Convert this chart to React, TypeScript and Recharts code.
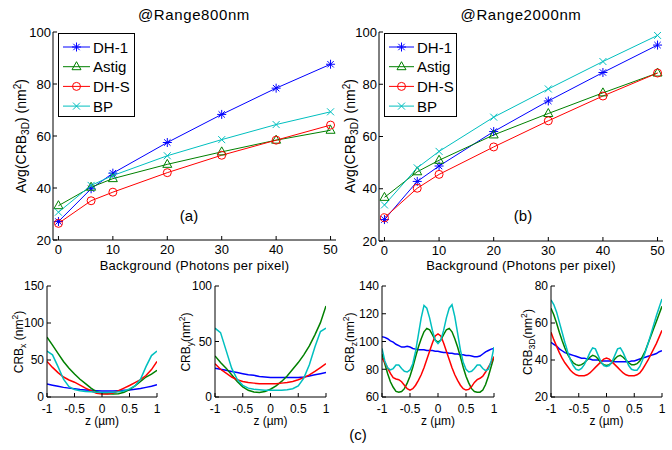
import React from "react";
import { LineChart, Line, XAxis, YAxis, Legend } from "recharts";

const FONT = '"Liberation Sans", Arial, Helvetica, sans-serif';
const BLUE = "#0000ff";
const GREEN = "#008000";
const RED = "#ff0000";
const CYAN = "#00bfbf";

// background photons per pixel
const bgLevels = [0, 6, 10, 20, 30, 40, 50];
const bgTicks = [0, 10, 20, 30, 40, 50];
const avgTicks = [20, 40, 60, 80, 100];

// (a) @Range800nm
const r800Dh1 = [27.1, 39.7, 45.7, 57.5, 68.3, 78.4, 87.6];
const r800Astig = [33.2, 40.3, 43.6, 49.1, 53.9, 58.4, 62.2];
const r800DhS = [26.4, 35.1, 38.4, 45.9, 52.6, 58.4, 64.2];
const r800Bp = [30.7, 41.0, 44.8, 52.4, 58.6, 64.4, 69.3];

// (b) @Range2000nm
const r2000Dh1 = [28.2, 42.8, 48.7, 61.9, 73.6, 84.5, 95.0];
const r2000Astig = [36.7, 46.5, 50.9, 60.6, 68.8, 76.7, 84.3];
const r2000DhS = [28.9, 40.2, 45.5, 56.0, 66.0, 75.5, 84.3];
const r2000Bp = [33.8, 48.0, 54.3, 67.4, 78.2, 88.7, 98.7];

// (c) CRB vs z
const zTicks = [-1, -0.5, 0, 0.5, 1];
const zCoarse = [-1, -0.9, -0.8, -0.7, -0.6, -0.5, -0.4, -0.3, -0.2, -0.1, 0, 0.1, 0.2, 0.3, 0.4, 0.5, 0.6, 0.7, 0.8, 0.9, 1];
const zFine = [
  -1, -0.95, -0.9, -0.85, -0.8, -0.75, -0.7, -0.65, -0.6, -0.55, -0.5, -0.45, -0.4, -0.35, -0.3, -0.25, -0.2, -0.15, -0.1, -0.05,
  0, 0.05, 0.1, 0.15, 0.2, 0.25, 0.3, 0.35, 0.4, 0.45, 0.5, 0.55, 0.6, 0.65, 0.7, 0.75, 0.8, 0.85, 0.9, 0.95, 1,
];

const crbxDh1 = [17.5, 16, 14.5, 13, 12, 11, 10, 9.5, 9, 8.5, 8, 8, 8, 8.5, 9, 9.5, 10.5, 11.5, 13, 14.5, 16.5];
const crbxAstig = [81, 70, 59, 48, 39, 31, 24, 18, 12, 7, 5, 4.5, 4, 4.5, 6.5, 10, 15, 21, 27, 31, 36];
const crbxDhS = [48, 40, 33, 27, 23, 20, 16, 12, 8.5, 5, 4, 4, 5.5, 8.5, 12, 15.5, 19.5, 23.5, 29, 37, 48];
const crbxBp = [62, 57, 41, 24, 14, 10, 8.5, 7.5, 7, 6.5, 6, 6, 6.5, 7, 8, 11, 15, 24, 41, 56, 62];

const crbyDh1 = [26, 25, 24, 23, 22, 21, 20, 19.5, 18.5, 18, 17.5, 17.5, 17.5, 17.5, 17.5, 17.5, 18, 19, 20, 21, 22];
const crbyAstig = [37, 31, 26, 20, 14, 9, 6, 4.5, 4, 5, 7, 10, 14, 19, 25, 31, 38, 46, 56, 67, 82];
const crbyDhS = [30, 25, 21.5, 18, 15.5, 14, 13, 12.5, 12, 12, 12, 12, 12.5, 13, 14, 15.5, 17.5, 20, 23, 26.5, 30];
const crbyBp = [62, 58, 42, 26, 16, 10.5, 8, 7, 6.5, 6, 6, 6, 6, 6.5, 7.5, 10, 17, 29, 45, 59, 62];

const crbzDh1 = [
  103.5, 103, 102, 100.5, 99.5, 98, 97, 96, 96, 96.5, 96, 95, 94.5, 94, 94, 94, 93.5, 93.5, 93.5, 93,
  93, 92.5, 92, 92, 91.5, 91.5, 91, 91, 90.5, 90.5, 90, 90, 89.5, 89, 89, 89.5, 91, 92.5, 93.5, 94.5, 95,
];
const crbzAstig = [
  91, 84, 77, 71, 67, 64, 63.5, 64, 66, 70, 75, 81.5, 89, 96, 102, 107, 109.5, 108.5, 105, 101,
  99.5, 101, 105, 108.5, 109.5, 107, 102, 96, 89, 81.5, 75, 70, 66, 64, 63.5, 63.5, 65, 69, 75, 82, 89,
];
const crbzDhS = [
  88, 85, 81, 77, 74, 73, 72.5, 71, 68.5, 66, 65, 66, 68.5, 72, 76, 81, 87, 93, 99, 104,
  105.5, 104, 99, 93, 87, 81, 76, 72, 68.5, 66, 65, 65.5, 67.5, 70.5, 72.5, 73.5, 75, 78, 81.5, 85, 89,
];
const crbzBp = [
  95, 86, 81, 79.5, 80.5, 83, 83, 80.5, 78.5, 78, 79.5, 84, 93, 105, 117, 126, 124, 117, 108, 101,
  98.5, 101, 108, 117, 124, 126.5, 118, 106, 94, 85, 80, 78, 78.5, 80.5, 83, 83, 80.5, 79, 80, 86, 96,
];

const crb3dDh1 = [
  49.5, 48.5, 47.5, 46, 45, 44, 43.5, 43, 42.5, 42, 41.5, 41, 41, 40.5, 40.5, 40, 40, 40, 39.5, 39.5,
  39.5, 39.5, 39.5, 39, 39, 39, 39, 39, 39, 39.5, 39.5, 40, 40.5, 41, 41.5, 42, 42.5, 43, 43.5, 44.5, 45,
];
const crb3dAstig = [
  68, 64.5, 60, 55, 50.5, 46.5, 43, 40.5, 38.5, 37.5, 37, 37.5, 38.5, 40, 41.5, 42.5, 42, 40.5, 38.5, 37.5,
  37, 37.5, 38.5, 40.5, 42, 42.5, 41.5, 40, 38.5, 37.5, 37.5, 38, 39.5, 42, 45, 49, 53, 57, 61, 65, 69,
];
const crb3dDhS = [
  55, 51, 47.5, 44, 41, 38.5, 36.5, 34.5, 33, 32, 31.5, 31.5, 31.5, 32, 33, 34.5, 36, 37.5, 39, 40.5,
  41, 40.5, 39, 37.5, 36, 34.5, 33, 32, 31.5, 31.5, 31.5, 32, 33, 35, 37.5, 40, 43, 46, 49, 52.5, 56,
];
const crb3dBp = [
  72.5, 70, 66, 60.5, 55, 49.5, 44.5, 40, 37, 35, 34.5, 35.5, 37.5, 40.5, 44, 46.5, 46, 42.5, 39, 37,
  36.5, 37, 39, 42.5, 46, 46.5, 44, 40.5, 37, 35, 34.5, 34.5, 36.5, 40, 44.5, 49, 54, 59, 64, 68.5, 73,
];

type Kind = "star" | "tri" | "circle" | "x";
const SERIES: { key: string; name: string; color: string; kind: Kind }[] = [
  { key: "dh1", name: "DH-1", color: BLUE, kind: "star" },
  { key: "astig", name: "Astig", color: GREEN, kind: "tri" },
  { key: "dhs", name: "DH-S", color: RED, kind: "circle" },
  { key: "bp", name: "BP", color: CYAN, kind: "x" },
];

const rows = (xs: number[], xKey: string, a: number[], b: number[], c: number[], d: number[]) =>
  xs.map((x, i) => ({ [xKey]: x, dh1: a[i], astig: b[i], dhs: c[i], bp: d[i] }));

const dataA = rows(bgLevels, "bg", r800Dh1, r800Astig, r800DhS, r800Bp);
const dataB = rows(bgLevels, "bg", r2000Dh1, r2000Astig, r2000DhS, r2000Bp);
const dataX = rows(zCoarse, "z", crbxDh1, crbxAstig, crbxDhS, crbxBp);
const dataY = rows(zCoarse, "z", crbyDh1, crbyAstig, crbyDhS, crbyBp);
const dataZ = rows(zFine, "z", crbzDh1, crbzAstig, crbzDhS, crbzBp);
const data3D = rows(zFine, "z", crb3dDh1, crb3dAstig, crb3dDhS, crb3dBp);

function Marker({ kind, x, y, color }: { kind: Kind; x: number; y: number; color: string }) {
  if (kind === "star") {
    return (
      <g stroke={color} strokeWidth={1}>
        <line x1={x - 4.5} y1={y} x2={x + 4.5} y2={y} />
        <line x1={x} y1={y - 4.5} x2={x} y2={y + 4.5} />
        <line x1={x - 3.2} y1={y - 3.2} x2={x + 3.2} y2={y + 3.2} />
        <line x1={x - 3.2} y1={y + 3.2} x2={x + 3.2} y2={y - 3.2} />
      </g>
    );
  }
  if (kind === "tri") {
    return <polygon points={`${x},${y - 5} ${x - 4.5},${y + 3} ${x + 4.5},${y + 3}`} fill="none" stroke={color} />;
  }
  if (kind === "circle") {
    return <circle cx={x} cy={y} r={4} fill="none" stroke={color} />;
  }
  return (
    <g stroke={color} strokeWidth={1}>
      <line x1={x - 3.5} y1={y - 3.5} x2={x + 3.5} y2={y + 3.5} />
      <line x1={x - 3.5} y1={y + 3.5} x2={x + 3.5} y2={y - 3.5} />
    </g>
  );
}

function LegendBox({ width, textX }: { width: number; textX: number }) {
  return (
    <svg width={width} height={84} style={{ display: "block" }}>
      <rect x={0.5} y={0.5} width={width - 1} height={83} fill="#fff" stroke="#000" />
      {SERIES.map((s, i) => {
        const y = 14 + i * 19.7;
        return (
          <g key={s.key}>
            <line x1={5} y1={y} x2={textX - 3} y2={y} stroke={s.color} />
            <Marker kind={s.kind} x={(textX + 2) / 2} y={y} color={s.color} />
            <text x={textX} y={y + 5.5} fontFamily={FONT} fontSize={15} fill="#000">
              {s.name}
            </text>
          </g>
        );
      })}
    </svg>
  );
}

const PAD_L = 50;
const PAD_T = 10;
const PAD_R = 10;
const PAD_B = 28;

type Box = { l: number; t: number; w: number; h: number };

function Panel(props: {
  box: Box;
  data: Record<string, number>[];
  xKey: string;
  xDomain: [number, number];
  xTicks: number[];
  yDomain: [number, number];
  yTicks: number[];
  fontSize: number;
  xTickGap: number;
  yTickGap: number;
  markers: boolean;
  strokeWidth: number;
  legend?: { l: number; t: number; w: number; textX: number };
}) {
  const { box, data, xKey, xDomain, xTicks, yDomain, yTicks, fontSize, xTickGap, yTickGap, markers, strokeWidth, legend } = props;
  const ink = { stroke: "#000", strokeWidth: 1 };
  const tick = { fontSize, fill: "#000", fontFamily: FONT };
  const fmt = (v: number) => String(v);
  return (
    <div style={{ position: "absolute", left: box.l - PAD_L, top: box.t - PAD_T }}>
      <LineChart
        width={box.w + PAD_L + PAD_R}
        height={box.h + PAD_T + PAD_B}
        data={data}
        margin={{ top: PAD_T, right: PAD_R, bottom: 0, left: 0 }}
      >
        <XAxis
          dataKey={xKey}
          type="number"
          domain={xDomain}
          ticks={xTicks}
          interval={0}
          allowDataOverflow
          height={PAD_B}
          tickSize={-4}
          tickMargin={xTickGap}
          tick={tick}
          tickFormatter={fmt}
          axisLine={ink}
          tickLine={ink}
        />
        <XAxis
          xAxisId="top"
          orientation="top"
          type="number"
          domain={xDomain}
          ticks={xTicks}
          interval={0}
          allowDataOverflow
          height={0}
          tickSize={-4}
          tick={false}
          axisLine={ink}
          tickLine={ink}
        />
        <YAxis
          type="number"
          domain={yDomain}
          ticks={yTicks}
          interval={0}
          allowDataOverflow
          width={PAD_L}
          tickSize={-4}
          tickMargin={yTickGap}
          tick={tick}
          axisLine={ink}
          tickLine={ink}
        />
        <YAxis
          yAxisId="right"
          orientation="right"
          type="number"
          domain={yDomain}
          ticks={yTicks}
          interval={0}
          allowDataOverflow
          width={0}
          tickSize={-4}
          tick={false}
          axisLine={ink}
          tickLine={ink}
        />
        {SERIES.map((s) => (
          <Line
            key={s.key}
            dataKey={s.key}
            name={s.name}
            type="linear"
            stroke={s.color}
            strokeWidth={strokeWidth}
            isAnimationActive={false}
            dot={
              markers
                ? (p: any) => <Marker key={`${s.key}-${p.index}`} kind={s.kind} x={p.cx} y={p.cy} color={s.color} />
                : false
            }
            activeDot={false}
          />
        ))}
        {legend ? (
          <Legend
            layout="vertical"
            verticalAlign="middle"
            align="center"
            content={() => <LegendBox width={legend.w} textX={legend.textX} />}
            wrapperStyle={{
              left: legend.l - (box.l - PAD_L),
              top: legend.t - (box.t - PAD_T),
              width: legend.w,
              height: 84,
              margin: 0,
            }}
          />
        ) : null}
      </LineChart>
    </div>
  );
}

function YLabel({ x, y, main, sub, gap, size }: { x: number; y: number; main: string; sub: string; gap: string; size: number }) {
  return (
    <text transform={`translate(${x},${y}) rotate(-90)`} textAnchor="middle" fontFamily={FONT} fontSize={size} fill="#000">
      {main}
      <tspan dy={3} fontSize={size * 0.72}>
        {sub}
      </tspan>
      <tspan dy={-3}>{gap}(nm</tspan>
      <tspan dy={-5} fontSize={size * 0.72}>
        2
      </tspan>
      <tspan dy={5}>)</tspan>
    </text>
  );
}

const boxA: Box = { l: 53, t: 32, w: 283, h: 208 };
const boxB: Box = { l: 379, t: 32, w: 284, h: 209 };
const boxX: Box = { l: 47, t: 286, w: 110, h: 111 };
const boxY: Box = { l: 215, t: 286, w: 111, h: 111 };
const boxZ: Box = { l: 382, t: 286, w: 112, h: 111 };
const box3D: Box = { l: 551, t: 286, w: 111, h: 111 };

export default function App() {
  const bgDomain: [number, number] = [-1, 51];
  const zDomain: [number, number] = [-1, 1];
  return (
    <div style={{ position: "absolute", left: 0, top: 0, width: 672, height: 450, background: "#fff", overflow: "hidden" }}>
      <Panel box={boxA} data={dataA} xKey="bg" xDomain={bgDomain} xTicks={bgTicks} yDomain={[20, 100]} yTicks={avgTicks}
        fontSize={13} xTickGap={9} yTickGap={6} markers strokeWidth={1} legend={{ l: 58, t: 33, w: 77, textX: 35 }} />
      <Panel box={boxB} data={dataB} xKey="bg" xDomain={bgDomain} xTicks={bgTicks} yDomain={[20, 100]} yTicks={avgTicks}
        fontSize={13} xTickGap={9} yTickGap={6} markers strokeWidth={1} legend={{ l: 384, t: 33, w: 73, textX: 33 }} />
      <Panel box={boxX} data={dataX} xKey="z" xDomain={zDomain} xTicks={zTicks} yDomain={[0, 150]} yTicks={[0, 50, 100, 150]}
        fontSize={12} xTickGap={11} yTickGap={7} markers={false} strokeWidth={1.5} />
      <Panel box={boxY} data={dataY} xKey="z" xDomain={zDomain} xTicks={zTicks} yDomain={[0, 100]} yTicks={[0, 50, 100]}
        fontSize={12} xTickGap={11} yTickGap={7} markers={false} strokeWidth={1.5} />
      <Panel box={boxZ} data={dataZ} xKey="z" xDomain={zDomain} xTicks={zTicks} yDomain={[60, 140]} yTicks={[60, 80, 100, 120, 140]}
        fontSize={12} xTickGap={11} yTickGap={7} markers={false} strokeWidth={1.5} />
      <Panel box={box3D} data={data3D} xKey="z" xDomain={zDomain} xTicks={zTicks} yDomain={[20, 80]} yTicks={[20, 40, 60, 80]}
        fontSize={12} xTickGap={11} yTickGap={7} markers={false} strokeWidth={1.5} />

      <svg width={672} height={450} style={{ position: "absolute", left: 0, top: 0, pointerEvents: "none" }}>
        <g fontFamily={FONT} fill="#000">
          <text x={194} y={20} textAnchor="middle" fontSize={15} letterSpacing={0.6}>@Range800nm</text>
          <text x={521} y={20} textAnchor="middle" fontSize={15} letterSpacing={0.6}>@Range2000nm</text>
          <text x={194.5} y={270} textAnchor="middle" fontSize={13} letterSpacing={0.25}>Background (Photons per pixel)</text>
          <text x={521} y={270} textAnchor="middle" fontSize={13} letterSpacing={0.25}>Background (Photons per pixel)</text>
          <text x={189} y={221} textAnchor="middle" fontSize={15}>(a)</text>
          <text x={523} y={221} textAnchor="middle" fontSize={15}>(b)</text>
          <text x={358} y={440} textAnchor="middle" fontSize={15}>(c)</text>
          <text x={102} y={425} textAnchor="middle" fontSize={12}>z (µm)</text>
          <text x={270.5} y={425} textAnchor="middle" fontSize={12}>z (µm)</text>
          <text x={438} y={425} textAnchor="middle" fontSize={12}>z (µm)</text>
          <text x={606.5} y={425} textAnchor="middle" fontSize={12}>z (µm)</text>
        </g>
        <YLabel x={26} y={136} main="Avg(CRB" sub="3D" gap=") " size={14} />
        <YLabel x={355} y={136} main="Avg(CRB" sub="3D" gap=") " size={14} />
        <YLabel x={23} y={342} main="CRB" sub="x" gap=" " size={12} />
        <YLabel x={190} y={342} main="CRB" sub="y" gap="" size={12} />
        <YLabel x={354} y={342} main="CRB" sub="z" gap="" size={12} />
        <YLabel x={532} y={342} main="CRB" sub="3D" gap="" size={12} />
      </svg>
    </div>
  );
}
